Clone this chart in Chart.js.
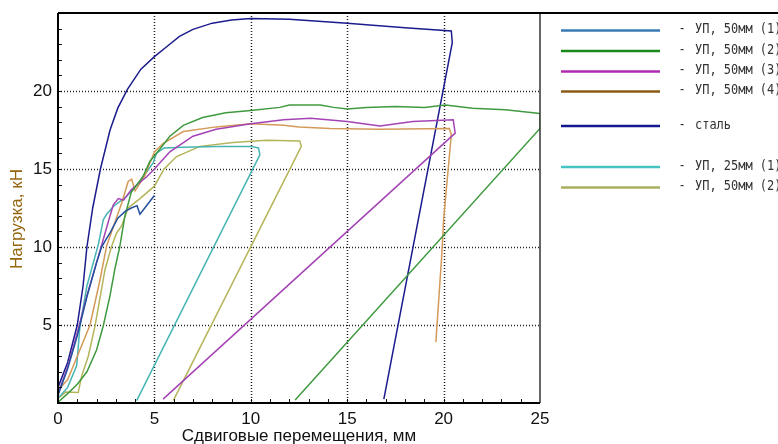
<!DOCTYPE html>
<html>
<head>
<meta charset="utf-8">
<script src="https://cdn.jsdelivr.net/npm/chart.js@4"></script>
<style>
  body { margin: 0; background: #fff; }
  canvas { display: block; }
</style>
</head>
<body>
<canvas id="chart" width="778" height="444"></canvas>
<script>
// Series labels and colours
const labels = ['УП, 50мм (1)', 'УП, 50мм (2)', 'УП, 50мм (3)', 'УП, 50мм (4)', 'сталь', 'УП, 25мм (1)', 'УП, 50мм (2)'];
const lineColors = ['#22509e', '#3f9a3f', '#a444b4', '#d49a58', '#1c1c8e', '#46b4b4', '#b4b45a'];
const legendColors = ['#3a7ab4', '#1a8a1a', '#b02ab0', '#8a5a16', '#14188e', '#46c4c4', '#a8b060'];

// Axis ticks
const xTicks = [0, 5, 10, 15, 20, 25];
const yTicks = [5, 10, 15, 20];

// Curves: [displacement mm, load kN]
const up50_1 = [[0,0.5],[0.5,2.2],[1.0,4.3],[1.5,6.8],[1.75,7.9],[2.0,9.0],[2.26,10.0],[2.5,10.5],[2.7,10.9],[3.1,11.85],[3.5,12.3],[3.8,12.5],[4.1,12.65],[4.25,12.1],[4.5,12.5],[5.0,13.3]];
const up50_2 = [[0,0.05],[0.5,0.6],[1.0,1.2],[1.5,2.0],[2.0,3.4],[2.35,4.95],[2.7,6.9],[2.95,8.6],[3.2,10.0],[3.47,12.0],[3.8,13.5],[4.4,14.5],[4.77,15.5],[5.3,16.3],[5.8,17.1],[6.5,17.8],[7.5,18.3],[8.7,18.6],[10,18.75],[11.5,18.95],[12,19.1],[13.6,19.1],[14.3,18.95],[15,18.85],[16,18.95],[17.5,19.0],[19,18.95],[20.1,19.1],[21.5,18.9],[23.2,18.8],[25,18.55],[25,17.6],[12.3,0.2]];
const up50_3 = [[0,0.6],[0.5,2.3],[1.0,4.5],[1.5,6.9],[2.0,9.0],[2.35,10.5],[2.7,12.0],[2.87,12.7],[3.13,13.1],[3.4,13.0],[3.82,13.7],[4.6,14.5],[5.0,15.0],[5.8,16.1],[7.0,17.1],[8.2,17.55],[10,17.9],[11.7,18.15],[13.1,18.25],[15,18.05],[16.7,17.75],[18.4,18.05],[20.5,18.15],[20.6,17.3],[5.45,0.25]];
const up50_4 = [[0,0.8],[0.5,1.5],[1.0,3.0],[1.66,5.0],[2.18,7.9],[2.52,10.05],[2.87,11.3],[3.3,12.8],[3.64,14.2],[3.82,14.35],[4.0,13.6],[4.5,14.55],[5.0,16.1],[5.46,16.65],[6.5,17.4],[8.2,17.7],[10,17.9],[11.7,17.8],[12.5,17.7],[14.1,17.6],[16.7,17.55],[20.3,17.6],[20.4,17.2],[20.0,11.75],[19.9,9.4],[19.6,3.9]];
const steel = [[0,1.0],[0.5,2.6],[1.0,5.0],[1.3,7.5],[1.5,10.0],[1.8,12.5],[2.2,15.0],[2.7,17.5],[3.1,18.9],[3.6,20.1],[4.3,21.4],[5,22.2],[5.7,22.9],[6.3,23.5],[7,23.95],[8,24.35],[9,24.55],[10,24.65],[12,24.6],[15,24.35],[18,24.05],[20.4,23.85],[20.45,23.1],[16.9,0.25]];
const up25_1 = [[0,0.3],[0.5,1.0],[0.97,2.4],[1.14,4.95],[1.5,7.5],[2.1,10.2],[2.35,11.75],[2.52,12.1],[2.87,12.6],[3.3,13.0],[3.56,13.25],[4.25,14.2],[4.94,15.4],[5.1,16.0],[5.5,16.35],[6.5,16.4],[8.2,16.45],[10,16.45],[10.4,16.35],[10.47,15.9],[4.08,0.15]];
const up50_2b = [[0,0.3],[0.4,0.7],[1.05,0.68],[1.23,1.74],[1.57,3.0],[1.92,4.94],[2.44,8.56],[2.78,10.05],[3.04,10.9],[3.3,11.35],[3.64,12.5],[4.25,13.1],[5.0,13.9],[5.5,15.0],[6.15,15.8],[7.36,16.45],[9.08,16.7],[10.8,16.85],[12.54,16.8],[12.62,16.45],[5.98,0.15]];

const series = [up50_1, up50_2, up50_3, up50_4, steel, up25_1, up50_2b];

const datasets = series.map((pts, i) => ({
    label: labels[i],
    data: pts.map(p => ({ x: p[0], y: p[1] })),
    showLine: true,
    borderColor: lineColors[i],
    borderWidth: 1.5,
    pointRadius: 0,
    tension: 0,
    fill: false
}));

// Frame, dotted grid, minor ticks, y title and legend
const decorations = {
    id: 'decorations',
    beforeDatasetsDraw(chart) {
        const { ctx, chartArea: a, scales: { x, y } } = chart;
        ctx.save();
        ctx.strokeStyle = '#222';
        ctx.lineWidth = 1.5;
        ctx.setLineDash([1, 2]);
        xTicks.slice(1, -1).forEach(v => {
            const px = Math.round(x.getPixelForValue(v)) + 0.5;
            ctx.beginPath(); ctx.moveTo(px, a.top); ctx.lineTo(px, a.bottom); ctx.stroke();
        });
        yTicks.forEach(v => {
            const py = Math.round(y.getPixelForValue(v)) + 0.5;
            ctx.beginPath(); ctx.moveTo(a.left, py); ctx.lineTo(a.right, py); ctx.stroke();
        });
        ctx.restore();
    },
    afterDatasetsDraw(chart) {
        const { ctx, chartArea: a, scales: { x, y } } = chart;
        ctx.save();
        ctx.strokeStyle = '#111';
        // minor ticks every 1 unit
        ctx.lineWidth = 1;
        for (let v = 1; v < 25; v++) {
            const py = Math.round(y.getPixelForValue(v)) + 0.5;
            ctx.beginPath(); ctx.moveTo(a.left - 1, py); ctx.lineTo(a.left + 4, py); ctx.stroke();
            const px = Math.round(x.getPixelForValue(v)) + 0.5;
            ctx.beginPath(); ctx.moveTo(px, a.bottom); ctx.lineTo(px, a.bottom - 4); ctx.stroke();
        }
        // frame
        ctx.lineWidth = 1.5;
        ctx.strokeStyle = '#333';
        ctx.beginPath(); ctx.moveTo(a.right, a.top); ctx.lineTo(a.right, a.bottom); ctx.stroke();
        ctx.lineWidth = 2;
        ctx.strokeStyle = '#000';
        ctx.beginPath();
        ctx.moveTo(a.left, a.top); ctx.lineTo(chart.width, a.top);
        ctx.moveTo(a.left, a.top); ctx.lineTo(a.left, a.bottom); ctx.lineTo(a.right, a.bottom);
        ctx.stroke();

        // y axis title
        ctx.fillStyle = '#94660f';
        ctx.font = '17px "Liberation Sans", Arial, sans-serif';
        ctx.textAlign = 'center';
        ctx.textBaseline = 'middle';
        ctx.translate(17, 219);
        ctx.rotate(-Math.PI / 2);
        ctx.fillText('Нагрузка, кН', 0, 0);
        ctx.restore();

        // legend
        const rows = [30.5, 51, 71.5, 91.5, 126, 167, 187.5];
        ctx.save();
        ctx.font = '13px "DejaVu Sans Mono", monospace';
        ctx.textBaseline = 'middle';
        ctx.textAlign = 'left';
        chart.data.datasets.forEach((ds, i) => {
            ctx.strokeStyle = legendColors[i];
            ctx.lineWidth = 2.5;
            ctx.beginPath(); ctx.moveTo(561, rows[i]); ctx.lineTo(660, rows[i]); ctx.stroke();
            ctx.fillStyle = '#333';
            ctx.save();
            ctx.translate(0, rows[i] - 1);
            ctx.scale(0.92, 1.05);
            ctx.fillText('-', 678.5 / 0.92, 0);
            ctx.fillText(ds.label, 695 / 0.92, 0);
            ctx.restore();
        });
        ctx.restore();
    }
};

new Chart(document.getElementById('chart'), {
    type: 'scatter',
    data: { datasets },
    plugins: [decorations],
    options: {
        responsive: false,
        animation: false,
        devicePixelRatio: 1,
        layout: { padding: { top: 13, right: 238, left: 0, bottom: 0 } },
        plugins: { legend: { display: false }, tooltip: { enabled: false } },
        scales: {
            x: {
                type: 'linear', min: 0, max: 25,
                afterFit(scale) { scale.height = 41; },
                grid: { display: false, drawTicks: false },
                border: { display: false },
                ticks: {
                    stepSize: 5, padding: 6, color: '#111',
                    font: { size: 17, family: '"Liberation Sans", Arial, sans-serif' },
                    callback: v => xTicks.includes(v) ? String(v) : ''
                },
                title: {
                    display: true, text: 'Сдвиговые перемещения, мм', color: '#111',
                    padding: { top: 0, bottom: 0 },
                    font: { size: 17, lineHeight: 0.9, family: '"Liberation Sans", Arial, sans-serif' }
                }
            },
            y: {
                type: 'linear', min: 0, max: 25,
                afterFit(scale) { scale.width = 58; scale.paddingTop = 0; scale.paddingBottom = 0; },
                grid: { display: false, drawTicks: false },
                border: { display: false },
                ticks: {
                    stepSize: 5, padding: 6, color: '#111',
                    font: { size: 17, family: '"Liberation Sans", Arial, sans-serif' },
                    callback: v => yTicks.includes(v) ? String(v) : ''
                }
            }
        }
    }
});
</script>
</body>
</html>
